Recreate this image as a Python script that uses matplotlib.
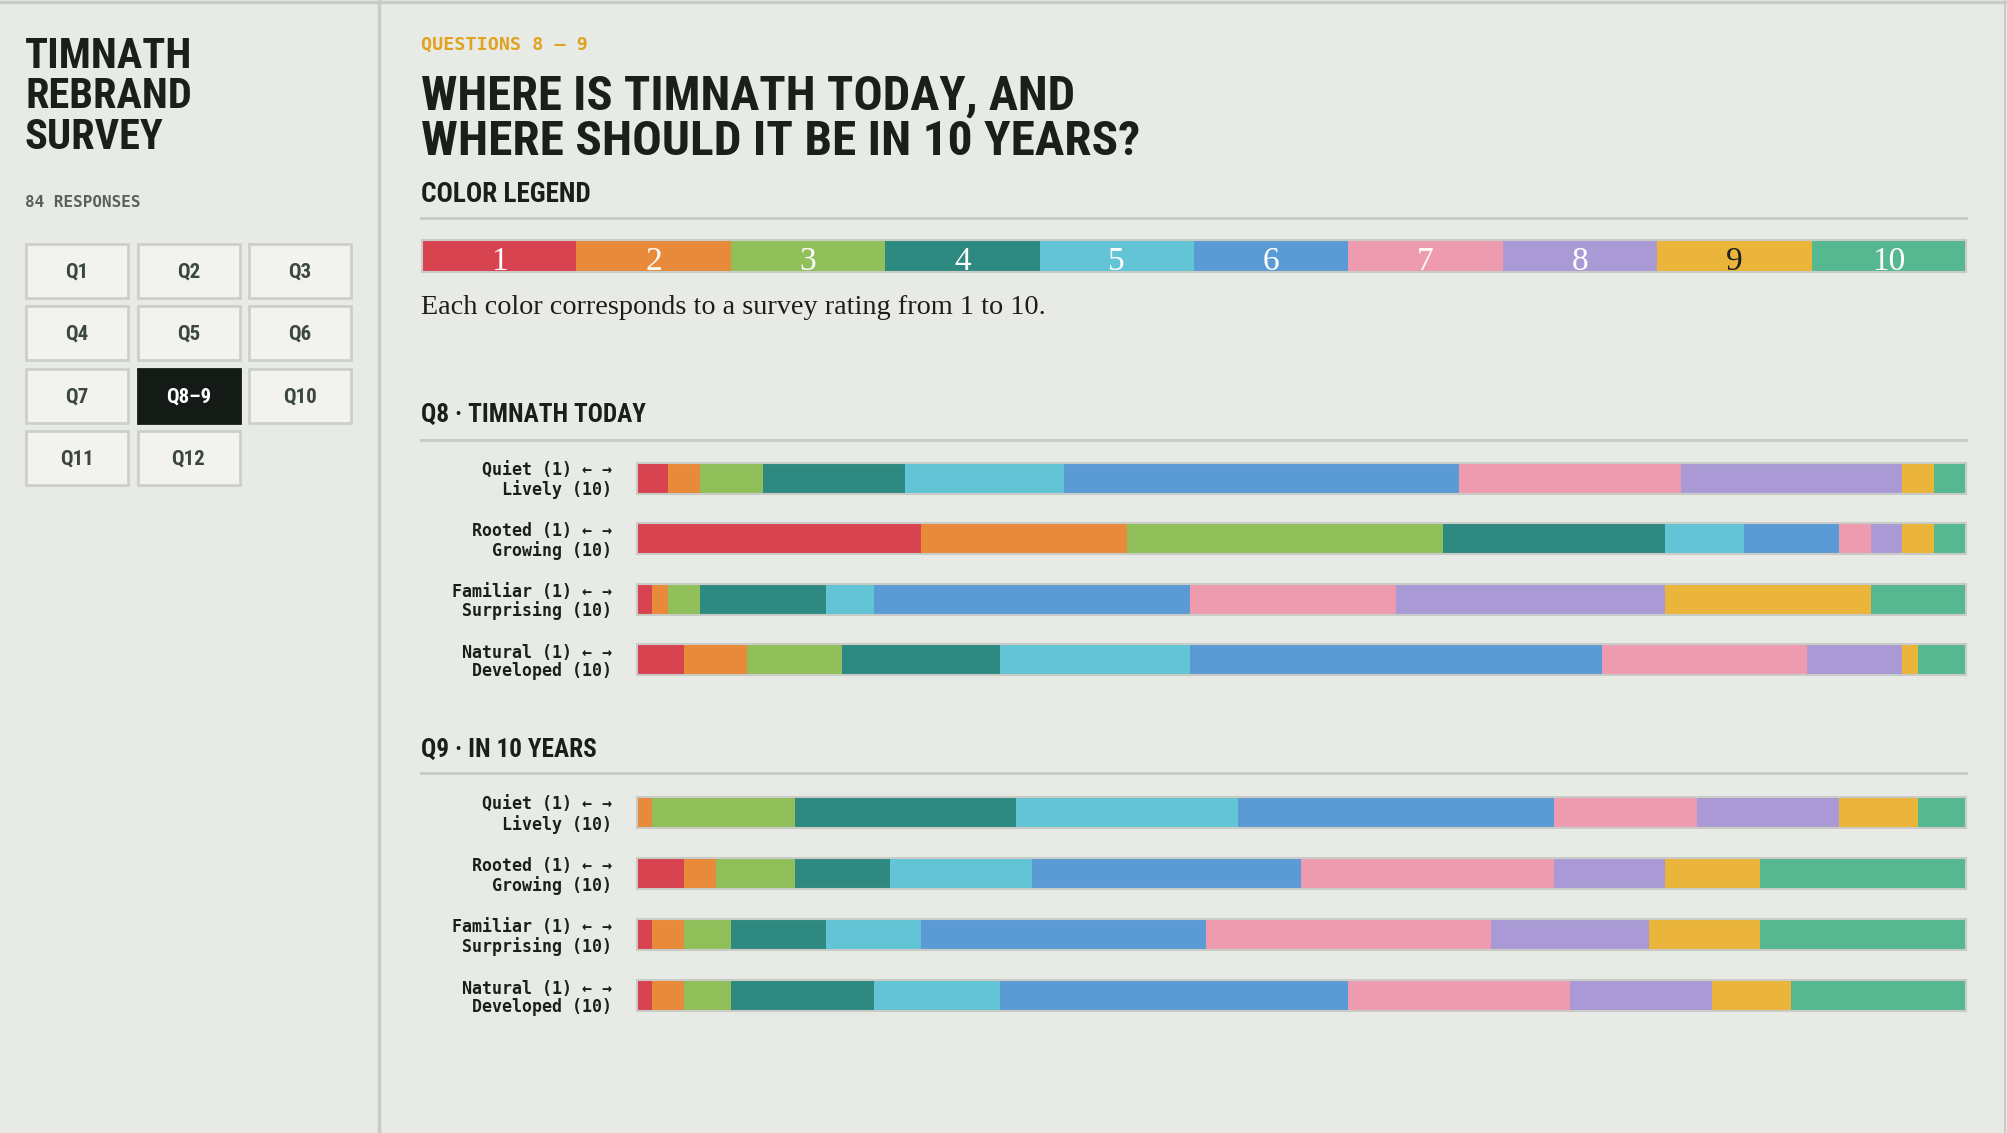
import numpy as np
import matplotlib
matplotlib.use("Agg")
import matplotlib.pyplot as plt
from matplotlib.patches import Rectangle

# ---- data ---------------------------------------------------------------
ratings = [str(r) for r in range(1, 11)]
rating_colors = ["#d7434f", "#e88a3a", "#91c05a", "#2e8a80", "#63c4d6",
                 "#5b9bd5", "#ee9bb0", "#a99ad6", "#eab53a", "#56b891"]

row_labels = ["Quiet (1) ← →\nLively (10)",
              "Rooted (1) ← →\nGrowing (10)",
              "Familiar (1) ← →\nSurprising (10)",
              "Natural (1) ← →\nDeveloped (10)"]

# number of responses for rating 1..10 (84 responses per row)
q8_today = [
    [2, 2, 4, 9, 10, 25, 14, 14, 2, 2],
    [18, 13, 20, 14, 5, 6, 2, 2, 2, 2],
    [1, 1, 2, 8, 3, 20, 13, 17, 13, 6],
    [3, 4, 6, 10, 12, 26, 13, 6, 1, 3],
]
q9_ten_years = [
    [0, 1, 9, 14, 14, 20, 9, 9, 5, 3],
    [3, 2, 5, 6, 9, 17, 16, 7, 6, 13],
    [1, 2, 3, 6, 6, 18, 18, 10, 7, 13],
    [1, 2, 3, 9, 8, 22, 14, 9, 5, 11],
]
n_responses = 84

nav_labels = ["Q1", "Q2", "Q3", "Q4", "Q5", "Q6", "Q7", "Q8–9", "Q10", "Q11", "Q12"]
active_nav = "Q8–9"

# ---- style --------------------------------------------------------------
W, H = 2007, 1133
BG = "#e8ebe5"
RULE = "#c9ccc6"
INK = "#19201b"
NARROW = ["Roboto Condensed", "Liberation Sans Narrow", "DejaVu Sans"]
MONO = ["DejaVu Sans Mono"]
SERIF = ["Liberation Serif", "DejaVu Serif"]

fig = plt.figure(figsize=(W / 100, H / 100), dpi=100, facecolor=BG)


def fig_rect(x0, y0, x1, y1):
    """pixel box (top-left origin) -> figure fraction rect"""
    return [x0 / W, 1 - y1 / H, (x1 - x0) / W, (y1 - y0) / H]


base = fig.add_axes([0, 0, 1, 1])
base.set_xlim(0, W)
base.set_ylim(H, 0)
base.axis("off")

# frame lines
base.plot([0, W], [1.5, 1.5], color=RULE, lw=2.5)
base.plot([2005, 2005], [0, H], color=RULE, lw=1.5)
base.plot([379, 379], [0, H], color=RULE, lw=2.5)

# ---- sidebar ------------------------------------------------------------
for i, word in enumerate(["TIMNATH", "REBRAND", "SURVEY"]):
    base.text(25, 68 + 40.5 * i, word, fontsize=30.5, fontweight="bold",
              family=NARROW, color=INK, va="baseline")
base.text(25, 207, "84 RESPONSES", fontsize=11.5, fontweight="bold",
          family=MONO, color="#5a605b", va="baseline")

for i, lab in enumerate(nav_labels):
    r, c = divmod(i, 3)
    x0 = 26 + 111.5 * c
    y0 = 244 + 62.3 * r
    active = lab == active_nav
    base.add_patch(Rectangle((x0, y0), 102, 54,
                             facecolor="#141b17" if active else "#f2f3ef",
                             edgecolor="#141b17" if active else "#cdd0ca",
                             lw=2))
    base.text(x0 + 51, y0 + 28, lab, fontsize=15, fontweight="bold",
              family=NARROW, color="white" if active else "#3b4640",
              ha="center", va="center")

# ---- header -------------------------------------------------------------
base.text(421, 50, "QUESTIONS 8 – 9", fontsize=13.2, fontweight="bold",
          family=MONO, color="#e0a21f", va="baseline")
base.text(421, 109, "WHERE IS TIMNATH TODAY, AND", fontsize=35,
          fontweight="bold", family=NARROW, color=INK, va="baseline")
base.text(421, 155, "WHERE SHOULD IT BE IN 10 YEARS?", fontsize=35.5,
          fontweight="bold", family=NARROW, color=INK, va="baseline")

base.text(421, 202, "COLOR LEGEND", fontsize=19.5, fontweight="bold",
          family=NARROW, color=INK, va="baseline")
base.plot([421, 1966], [218, 218], color=RULE, lw=2.2)

# legend bar
leg = fig.add_axes(fig_rect(422, 240, 1966, 272))
leg.barh(0, [1] * 10, left=np.arange(10), height=1, color=rating_colors, lw=0)
leg.barh(0, 10, height=1, fill=False, edgecolor=RULE, lw=1.5, clip_on=False)
for i, lab in enumerate(ratings):
    leg.text(i + 0.5, -0.44, lab, ha="center", va="baseline", fontsize=24,
             family=SERIF, color="#1f1f1f" if lab == "9" else "white")
leg.set_xlim(0, 10)
leg.set_ylim(-0.5, 0.5)
leg.axis("off")

base.text(421, 314, "Each color corresponds to a survey rating from 1 to 10.",
          fontsize=20.3, family=SERIF, color="#1c1c1c", va="baseline")


# ---- stacked rows -------------------------------------------------------
def draw_rows(rect, data):
    ax = fig.add_axes(rect)
    counts = np.array(data)
    y = np.arange(len(counts))
    left = np.zeros(len(counts))
    for k in range(counts.shape[1]):
        ax.barh(y, counts[:, k], left=left, height=0.51,
                color=rating_colors[k], lw=0)
        left += counts[:, k]
    ax.barh(y, left, height=0.51, fill=False, edgecolor=RULE, lw=1.5,
            clip_on=False)
    ax.set_xlim(0, n_responses)
    ax.set_ylim(len(counts) - 0.5, -0.5)
    ax.set_xticks([])
    ax.set_yticks(y, row_labels, family=MONO, fontweight="bold",
                  fontsize=12, color=INK, linespacing=1.05)
    for t in ax.get_yticklabels():
        t.set_multialignment("right")
    ax.tick_params(axis="y", length=0, pad=18)
    for s in ax.spines.values():
        s.set_visible(False)
    ax.patch.set_visible(False)
    return ax


base.text(421, 422, "Q8 · TIMNATH TODAY", fontsize=18.2, fontweight="bold",
          family=NARROW, color=INK, va="baseline")
base.plot([421, 1966], [440, 440], color=RULE, lw=2.2)
draw_rows(fig_rect(636.5, 448, 1965.5, 690), q8_today)

base.text(421, 757, "Q9 · IN 10 YEARS", fontsize=18.2, fontweight="bold",
          family=NARROW, color=INK, va="baseline")
base.plot([421, 1966], [773, 773], color=RULE, lw=2.2)
draw_rows(fig_rect(636.5, 782, 1965.5, 1026), q9_ten_years)

fig.savefig("out.png", dpi=100, facecolor=BG)
